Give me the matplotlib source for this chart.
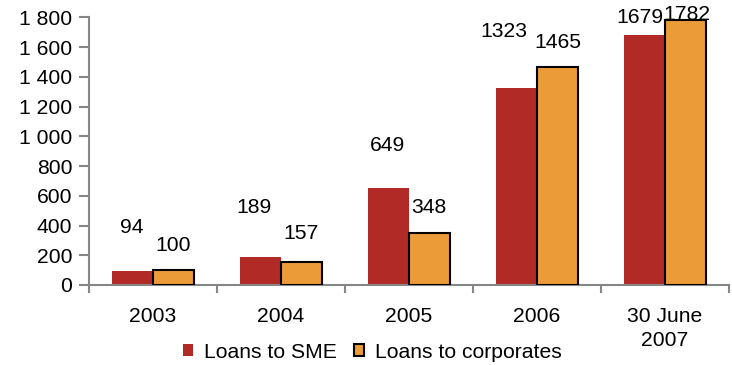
import matplotlib
matplotlib.use("Agg")
from matplotlib import pyplot as plt
from matplotlib.patches import Patch
import numpy as np

plt.rcParams['font.family'] = ['Liberation Sans', 'DejaVu Sans']

periods = ["2003", "2004", "2005", "2006", "30 June\n2007"]
loans_sme = [94, 189, 649, 1323, 1679]
loans_corporates = [100, 157, 348, 1465, 1782]
y_ticks = [0, 200, 400, 600, 800, 1000, 1200, 1400, 1600, 1800]

RED = "#b22a26"
ORANGE = "#eb9b38"
AXIS_GREY = "#868686"
FS = 15.2

# label placement (pixels, relative to bar top centre)
sme_label_off = [(-1, 44), (-7, 49), (-1, 43), (-13, 57), (-5, 18)]
corp_label_off = [(0, 25), (0, 28), (-1, 26), (0, 25), (1, 5)]


def fmt_thousands(v):
    return "{:,}".format(int(v)).replace(",", " ")


fig = plt.figure(figsize=(7.32, 3.65), dpi=100)
ax = fig.add_axes([89 / 732, 1 - 285 / 365, 640 / 732, (285 - 17.3) / 365])

x = np.arange(len(periods))
w = 0.32
bars_sme = ax.bar(x - w / 2, loans_sme, width=w, color=RED, linewidth=0, zorder=2)
bars_corp = ax.bar(x + w / 2, loans_corporates, width=w, color=ORANGE,
                   edgecolor="black", linewidth=1.5, zorder=3)

for bar, val, off in zip(bars_sme, loans_sme, sme_label_off):
    ax.annotate(str(val), (bar.get_x() + bar.get_width() / 2, val),
                xytext=off, textcoords="offset pixels", ha="center", va="center",
                fontsize=FS, zorder=5)
for bar, val, off in zip(bars_corp, loans_corporates, corp_label_off):
    ax.annotate(str(val), (bar.get_x() + bar.get_width() / 2, val),
                xytext=off, textcoords="offset pixels", ha="center", va="center",
                fontsize=FS, zorder=5)

ax.set_xlim(-0.5, len(periods) - 0.5)
ax.set_ylim(0, 1800)
ax.set_yticks(y_ticks)
ax.set_yticklabels([fmt_thousands(v) for v in y_ticks], fontsize=FS)

# category labels centred, tick marks on the category boundaries
ax.set_xticks(x)
ax.set_xticklabels(periods, fontsize=FS, linespacing=1.35)
ax.set_xticks(np.arange(len(periods) + 1) - 0.5, minor=True)
ax.tick_params(axis="x", which="major", length=0, pad=16)
ax.tick_params(axis="x", which="minor", length=6, width=1.5, color=AXIS_GREY)
ax.tick_params(axis="y", length=7, width=1.5, color=AXIS_GREY, pad=5)

for side in ("top", "right"):
    ax.spines[side].set_visible(False)
for side in ("left", "bottom"):
    ax.spines[side].set_color(AXIS_GREY)
    ax.spines[side].set_linewidth(1.5)

handles = [Patch(facecolor=RED, edgecolor="none"),
           Patch(facecolor=ORANGE, edgecolor="black", linewidth=1.5)]
fig.legend(handles, ["Loans to SME", "Loans to corporates"], loc="center",
           bbox_to_anchor=(372 / 732, 1 - 352 / 365), ncol=2, frameon=False,
           fontsize=FS, handlelength=0.5, handleheight=0.5, handletextpad=0.5,
           columnspacing=0.8, borderpad=0, borderaxespad=0)

fig.savefig("out.png", dpi=100)
